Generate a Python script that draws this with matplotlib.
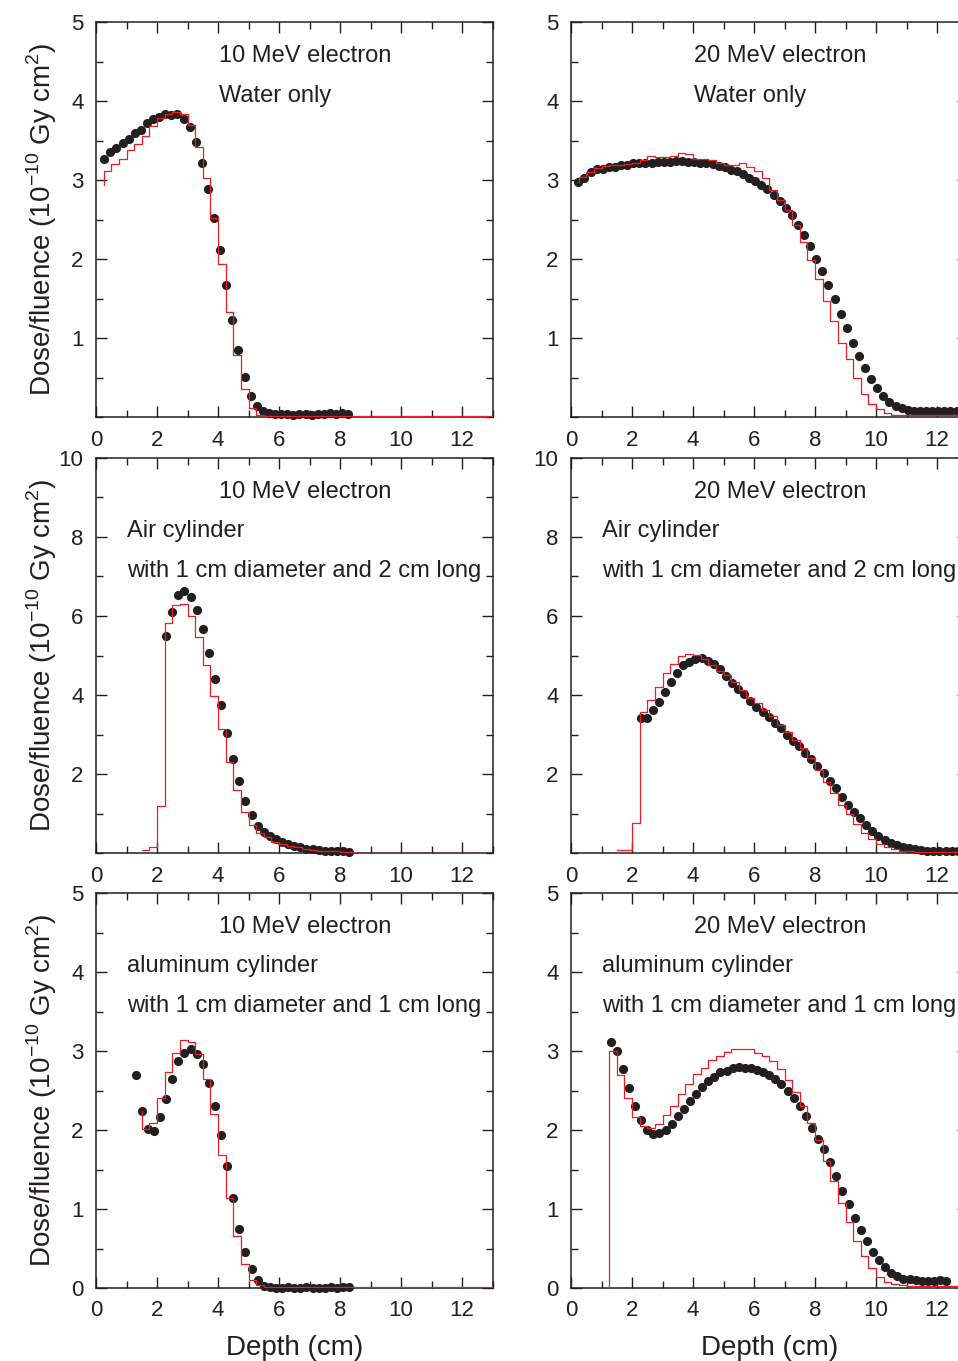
import numpy as np
import matplotlib.pyplot as plt
from matplotlib.ticker import MultipleLocator

plt.rcParams["font.family"] = ["Liberation Sans", "DejaVu Sans"]
plt.rcParams["axes.unicode_minus"] = False
INK = "#231f20"

# ===================== data =====================
# 10 MeV, water only
d1_x = np.round(np.arange(0.27, 8.28, 0.2), 2)
d1_y = [3.27, 3.35, 3.41, 3.47, 3.52, 3.60, 3.63, 3.72, 3.77, 3.80, 3.84, 3.82, 3.83,
        3.77, 3.67, 3.48, 3.22, 2.89, 2.52, 2.11, 1.67, 1.23, 0.85, 0.51, 0.27, 0.14,
        0.08, 0.05, 0.04, 0.04, 0.04, 0.03, 0.04, 0.04, 0.03, 0.04, 0.04, 0.05, 0.04,
        0.05, 0.04]
h1_start, h1_stub, h1_tail = 0.25, 2.94, 0.01
h1 = [3.11, 3.20, 3.27, 3.38, 3.46, 3.56, 3.68, 3.79, 3.84, 3.86, 3.84, 3.69, 3.42,
      3.02, 2.52, 1.94, 1.33, 0.78, 0.36, 0.11, 0.025]

# 20 MeV, water only
d2_x = np.round(np.arange(0.24, 12.65, 0.2), 2)
d2_y = [2.97, 3.03, 3.10, 3.14, 3.14, 3.17, 3.17, 3.19, 3.19, 3.21, 3.21, 3.22, 3.22,
        3.23, 3.23, 3.23, 3.24, 3.24, 3.23, 3.23, 3.22, 3.21, 3.20, 3.18, 3.16, 3.13,
        3.11, 3.08, 3.03, 2.99, 2.94, 2.88, 2.81, 2.74, 2.65, 2.56, 2.43, 2.30, 2.16,
        2.00, 1.85, 1.67, 1.49, 1.31, 1.13, 0.94, 0.77, 0.62, 0.48, 0.37, 0.27, 0.19,
        0.14, 0.11, 0.09, 0.08, 0.08, 0.08, 0.07, 0.07, 0.07, 0.07, 0.07]
h2_start, h2_stub, h2_tail = 0.25, 2.97, 0.02
h2 = [3.04, 3.10, 3.15, 3.18, 3.19, 3.19, 3.20, 3.22, 3.25, 3.30, 3.29, 3.29, 3.30,
      3.34, 3.33, 3.27, 3.27, 3.25, 3.21, 3.19, 3.19, 3.21, 3.17, 3.12, 3.02, 2.87,
      2.75, 2.62, 2.43, 2.21, 1.99, 1.75, 1.47, 1.21, 0.94, 0.73, 0.50, 0.29, 0.17,
      0.10, 0.05, 0.03]

# 10 MeV, air cylinder
d3_x = np.round(np.arange(2.3, 8.31, 0.2), 2)
d3_y = [5.49, 6.11, 6.52, 6.64, 6.49, 6.15, 5.66, 5.06, 4.41, 3.75, 3.03, 2.37, 1.82,
        1.32, 0.95, 0.69, 0.54, 0.44, 0.35, 0.28, 0.23, 0.18, 0.14, 0.11, 0.09, 0.07,
        0.06, 0.05, 0.04, 0.04, 0.03]
h3_start, h3_stub, h3_tail = 1.5, 0.08, 0.01
h3 = [0.08, 0.15, 1.19, 5.83, 6.28, 6.30, 6.01, 5.48, 4.76, 3.97, 3.13, 2.31, 1.59,
      1.05, 0.71, 0.51, 0.40, 0.29, 0.23, 0.18, 0.14, 0.11, 0.08, 0.06, 0.05, 0.04,
      0.03, 0.02]

# 20 MeV, air cylinder
d4_x = np.round(np.arange(2.28, 12.69, 0.2), 2)
d4_y = [3.41, 3.43, 3.62, 3.82, 4.08, 4.34, 4.56, 4.76, 4.84, 4.90, 4.93, 4.87, 4.78,
        4.65, 4.48, 4.31, 4.14, 4.02, 3.86, 3.70, 3.58, 3.44, 3.30, 3.16, 2.99, 2.84,
        2.71, 2.54, 2.37, 2.20, 2.02, 1.83, 1.64, 1.43, 1.22, 1.05, 0.88, 0.71, 0.56,
        0.43, 0.33, 0.26, 0.20, 0.16, 0.12, 0.09, 0.08, 0.06, 0.06, 0.05, 0.05, 0.05,
        0.05]
h4_start, h4_stub, h4_tail = 1.5, 0.08, 0.02
h4 = [0.08, 0.08, 0.75, 3.58, 3.87, 4.21, 4.55, 4.78, 4.99, 5.04, 5.01, 4.90, 4.76,
      4.62, 4.51, 4.34, 4.13, 3.92, 3.79, 3.62, 3.47, 3.24, 3.07, 2.86, 2.65, 2.40,
      2.10, 1.80, 1.51, 1.21, 0.99, 0.73, 0.50, 0.35, 0.23, 0.16, 0.09, 0.06, 0.04,
      0.03]

# 10 MeV, aluminum cylinder
d5_x = np.round(np.arange(1.3, 8.31, 0.2), 2)
d5_y = [2.69, 2.24, 2.01, 1.99, 2.16, 2.39, 2.65, 2.87, 2.98, 3.03, 2.96, 2.84, 2.60,
        2.30, 1.94, 1.55, 1.14, 0.75, 0.45, 0.24, 0.10, 0.03, 0.01, 0.00, 0.00, 0.01,
        0.00, 0.00, 0.01, 0.00, 0.00, 0.00, 0.01, 0.00, 0.01, 0.01]
h5_start, h5_stub, h5_tail = 1.5, 2.24, 0.01
h5 = [2.01, 2.09, 2.40, 2.74, 2.98, 3.14, 3.12, 2.96, 2.64, 2.20, 1.68, 1.14, 0.66,
      0.30, 0.10, 0.04]

# 20 MeV, aluminum cylinder
d6_x = np.round(np.arange(1.3, 12.31, 0.2), 2)
d6_y = [3.11, 3.00, 2.77, 2.53, 2.30, 2.13, 2.00, 1.95, 1.96, 2.00, 2.08, 2.18, 2.27,
        2.37, 2.46, 2.55, 2.62, 2.67, 2.73, 2.75, 2.78, 2.80, 2.79, 2.78, 2.76, 2.74,
        2.70, 2.64, 2.58, 2.49, 2.40, 2.30, 2.18, 2.03, 1.89, 1.76, 1.59, 1.42, 1.23,
        1.06, 0.89, 0.73, 0.59, 0.46, 0.35, 0.26, 0.19, 0.15, 0.12, 0.11, 0.10, 0.09,
        0.09, 0.09, 0.10, 0.09]
h6_start, h6_stub, h6_tail = 1.25, 0.0, 0.02
h6 = [3.00, 2.70, 2.41, 2.17, 2.05, 2.02, 2.08, 2.19, 2.30, 2.46, 2.58, 2.71, 2.79,
      2.88, 2.94, 2.99, 3.02, 3.03, 3.02, 2.98, 2.94, 2.87, 2.77, 2.63, 2.48, 2.30,
      2.09, 1.87, 1.61, 1.35, 1.08, 0.83, 0.59, 0.40, 0.25, 0.14, 0.08, 0.05, 0.04]

titles = ["10 MeV electron", "20 MeV electron"]
row_notes = [["Water only"],
             ["Air cylinder", "with 1 cm diameter and 2 cm long"],
             ["aluminum cylinder", "with 1 cm diameter and 1 cm long"]]
ylabel = r"Dose/fluence (10$^{\mathregular{-10}}$ Gy cm$^{\mathregular{2}}$)"

# ===================== figure =====================
fig = plt.figure(figsize=(9.58, 13.61), dpi=100)
W, H = 958, 1361
col_x = [96, 571]
row_top = [22, 458, 893]
aw, ah = 396.5, 395

panels = [
    (0, 0, d1_x, d1_y, h1_start, h1_stub, h1, h1_tail),
    (0, 1, d2_x, d2_y, h2_start, h2_stub, h2, h2_tail),
    (1, 0, d3_x, d3_y, h3_start, h3_stub, h3, h3_tail),
    (1, 1, d4_x, d4_y, h4_start, h4_stub, h4, h4_tail),
    (2, 0, d5_x, d5_y, h5_start, h5_stub, h5, h5_tail),
    (2, 1, d6_x, d6_y, h6_start, h6_stub, h6, h6_tail),
]
ylims = [5, 10, 5]

for row, col, dx, dy, hs, stub, hv, tail in panels:
    ax = fig.add_axes([col_x[col] / W, 1 - (row_top[row] + ah) / H, aw / W, ah / H])

    # dots
    ax.plot(dx, dy, "o", color=INK, ms=6.6, mec="none", zorder=3, clip_on=False)

    # red histogram (0.25 cm bins, then a flat tail to 13 cm)
    edges = hs + 0.25 * np.arange(len(hv) + 1)
    xs = np.concatenate([[hs], edges, [13.0]])
    ys = np.concatenate([[stub], hv, [tail, tail]])
    ax.plot(xs, ys, drawstyle="steps-post", color="#ee1c24", lw=0.9, zorder=4)

    top = ylims[row]
    ax.set_xlim(0, 13)
    ax.set_ylim(0, top)
    ax.xaxis.set_major_locator(MultipleLocator(2))
    ax.xaxis.set_minor_locator(MultipleLocator(1))
    ax.yaxis.set_major_locator(MultipleLocator(top / 5))
    ax.yaxis.set_minor_locator(MultipleLocator(top / 10))
    ax.tick_params(which="both", direction="in", top=True, right=True,
                   colors=INK, labelsize=16, width=1.0)
    ax.tick_params(which="major", length=8, pad=9)
    ax.tick_params(which="minor", length=5)
    for s in ax.spines.values():
        s.set_linewidth(1.1)
        s.set_color(INK)

    if row < 2:
        ax.set_yticks(np.arange(top / 5, top + 0.01, top / 5))
        ax.set_yticklabels([f"{v:g}" for v in np.arange(top / 5, top + 0.01, top / 5)])

    if col == 0:
        ax.set_ylabel(ylabel, fontsize=20, color=INK)
        ax.yaxis.set_label_coords(-0.094, 0.5)
    if row == 2:
        ax.set_xlabel("Depth (cm)", fontsize=20, color=INK, labelpad=10)

    # annotations
    ax.text(0.31, 0.914, titles[col], transform=ax.transAxes, fontsize=17,
            color=INK, va="center", ha="left")
    if row == 0:
        ax.text(0.31, 0.812, row_notes[0][0], transform=ax.transAxes, fontsize=17,
                color=INK, va="center", ha="left")
    else:
        ax.text(0.078, 0.816, row_notes[row][0], transform=ax.transAxes, fontsize=17,
                color=INK, va="center", ha="left")
        ax.text(0.078, 0.714, row_notes[row][1], transform=ax.transAxes, fontsize=17,
                color=INK, va="center", ha="left")

fig.savefig("out.png", dpi=100)
